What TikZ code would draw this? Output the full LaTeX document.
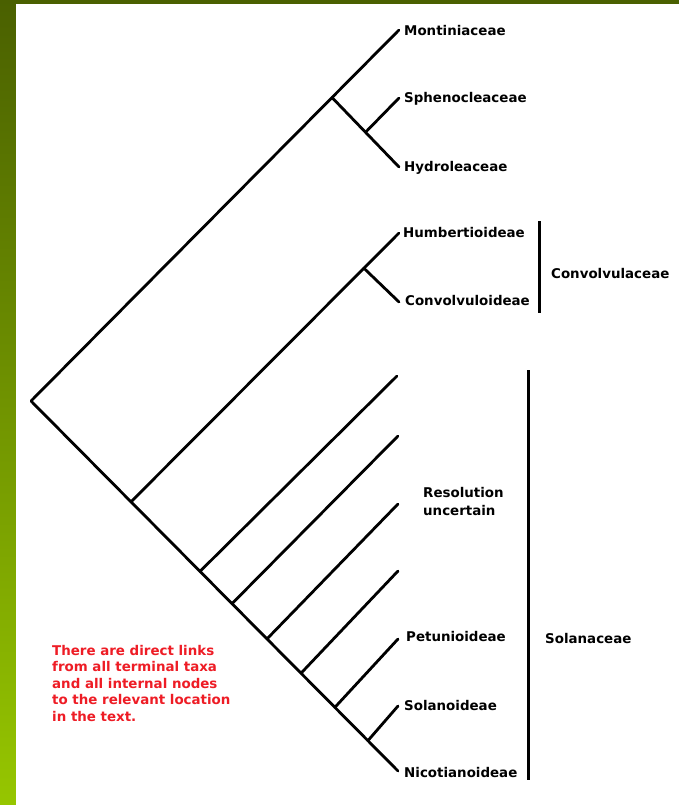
\documentclass[tikz,border=0pt]{standalone}
\usepackage{fontspec}
\setmainfont{DejaVu Sans}
\usetikzlibrary{calc}
\definecolor{bandtop}{RGB}{74,96,0}
\definecolor{bandbot}{RGB}{150,198,0}
\definecolor{notered}{RGB}{238,28,37}
\begin{document}
\begin{tikzpicture}[x=1bp,y=-1bp,
  edge/.style={line width=2.8bp, line cap=round, line join=round},
  bracket/.style={line width=3bp},
  taxon/.style={anchor=base west, inner sep=0pt, font=\fontsize{13.4bp}{15bp}\selectfont\bfseries},
  note/.style={anchor=north west, inner sep=0pt, align=left, text=notered,
    font=\fontsize{13.4bp}{16.5bp}\selectfont\bfseries}]
\useasboundingbox (0,0) rectangle (679,805);
% frame
\shade[top color=bandtop, bottom color=bandbot] (0,0) rectangle (16,805);
\fill[bandtop] (0,0) rectangle (679,4);
\fill[white] (16,4) rectangle (679,805);

% tips
\coordinate (root) at (31,401);
\coordinate (tMont) at (399,30);
\coordinate (tSph) at (399,98);
\coordinate (tHyd) at (399,167);
\coordinate (tHum) at (399,233);
\coordinate (tCon) at (399,302);
\coordinate (t1) at (397,376);
\coordinate (t2) at (398,436);
\coordinate (t3) at (398,504);
\coordinate (t4) at (398,571);
\coordinate (tPet) at (398,639);
\coordinate (tSol) at (398,706);
\coordinate (tNic) at (398,771);

% internal nodes
\coordinate (nA) at ($(root)!0.818!(tMont)$);
\coordinate (nS) at ($(nA)!0.5!(tHyd)$);
\coordinate (nC) at ($(root)!0.2725!(tNic)$);
\coordinate (nB) at ($(nC)!0.869!(tHum)$);
\coordinate (n1) at ($(root)!0.4605!(tNic)$);
\coordinate (n2) at ($(root)!0.5477!(tNic)$);
\coordinate (n3) at ($(root)!0.643!(tNic)$);
\coordinate (n4) at ($(root)!0.7357!(tNic)$);
\coordinate (n5) at ($(root)!0.828!(tNic)$);
\coordinate (n6) at ($(root)!0.918!(tNic)$);

% tree
\draw[edge] (tMont) -- (nA) -- (root) -- (nC) -- (n1) -- (n2) -- (n3) -- (n4) -- (n5) -- (n6) -- (tNic);
\draw[edge] (nA) -- (nS) -- (tHyd);
\draw[edge] (nS) -- (tSph);
\draw[edge] (nC) -- (nB) -- (tHum);
\draw[edge] (nB) -- (tCon);
\draw[edge] (n1) -- (t1);
\draw[edge] (n2) -- (t2);
\draw[edge] (n3) -- (t3);
\draw[edge] (n4) -- (t4);
\draw[edge] (n5) -- (tPet);
\draw[edge] (n6) -- (tSol);

% labels
\node[taxon] (lMont) at (404,36) {Montiniaceae};
\node[taxon] (lSph) at (404,102) {Sphenocleaceae};
\node[taxon] (lHyd) at (404,171) {Hydroleaceae};
\node[taxon] (lHum) at (403,237) {Humbertioideae};
\node[taxon] (lCon) at (405,305) {Convolvuloideae};
\node[taxon] (lPet) at (406,641) {Petunioideae};
\node[taxon] (lSol) at (404,710) {Solanoideae};
\node[taxon] (lNic) at (404,777) {Nicotianoideae};
\node[taxon, align=left, font=\fontsize{13.4bp}{18bp}\selectfont\bfseries, anchor=north west] (lRes) at (423,487) {Resolution\\uncertain};

% family brackets
\coordinate (cvTop) at (539,221);
\coordinate (cvBot) at (539,313);
\coordinate (soTop) at (528,370);
\coordinate (soBot) at (528,780);
\draw[bracket] (cvTop) -- (cvBot);
\draw[bracket] (soTop) -- (soBot);
\node[taxon] (lConv) at (551,278) {Convolvulaceae};
\node[taxon] (lSolan) at (545,643) {Solanaceae};

% note
\node[note] (note) at (52,645) {There are direct links\\from all terminal taxa\\and all internal nodes\\to the relevant location\\in the text.};
\end{tikzpicture}
\end{document}
